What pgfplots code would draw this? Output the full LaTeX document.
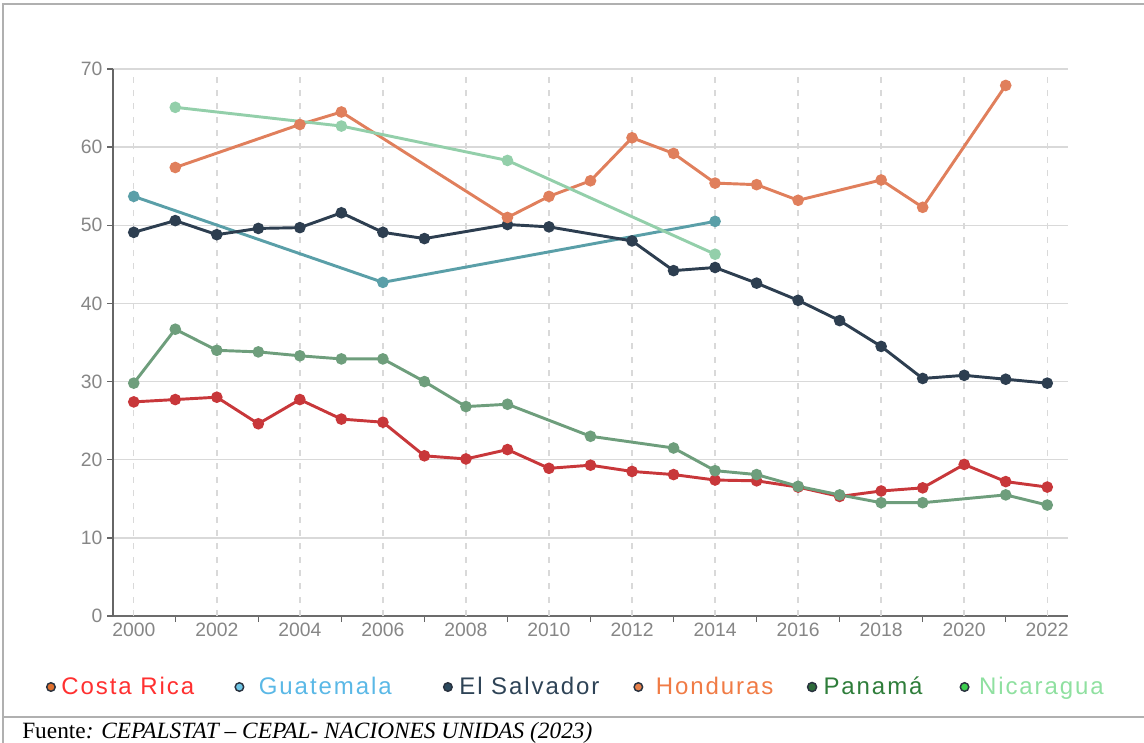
\documentclass[border=0pt]{standalone}
\usepackage{fontspec}
\setmainfont{Liberation Sans}
\newfontfamily\legfont{Liberation Sans}[LetterSpace=8]
\newfontfamily\srcfont{Liberation Serif}
\usepackage{pgfplots}
\pgfplotsset{compat=1.18}
\definecolor{cCR}{HTML}{C8373A}
\definecolor{cGU}{HTML}{5A9FA8}
\definecolor{cES}{HTML}{2D3E50}
\definecolor{cHO}{HTML}{E07F5C}
\definecolor{cPA}{HTML}{6E9E7C}
\definecolor{cNI}{HTML}{93CFAA}
\definecolor{tCR}{HTML}{FF3030}
\definecolor{tGU}{HTML}{5AB8E6}
\definecolor{tES}{HTML}{2E4356}
\definecolor{tHO}{HTML}{F07B45}
\definecolor{tPA}{HTML}{2E7D3A}
\definecolor{tNI}{HTML}{8FE0A0}
\definecolor{mCR}{HTML}{E0702E}
\definecolor{mGU}{HTML}{6EC6E6}
\definecolor{mES}{HTML}{2C4A5E}
\definecolor{mHO}{HTML}{E8804A}
\definecolor{mPA}{HTML}{2E6B3A}
\definecolor{mNI}{HTML}{3CCF4E}
\definecolor{mOut}{HTML}{2A3340}
\definecolor{frame}{HTML}{B0B0B0}
\begin{document}
\begin{tikzpicture}
\useasboundingbox (0,0) rectangle (858pt,-556.5pt);
\draw[frame, line width=1.5pt] (2.25pt,-560pt) -- (2.25pt,-3pt) -- (860pt,-3pt);
\draw[frame, line width=1.5pt] (2.25pt,-537.75pt) -- (860pt,-537.75pt);
\begin{axis}[
  at={(84.75pt,-462pt)}, anchor=south west,
  scale only axis, width=716.25pt, height=410.25pt,
  xmin=1999.5, xmax=2022.5, ymin=0, ymax=70,
  axis x line*=bottom, axis y line*=left,
  x axis line style={draw=gray!85!black, line width=1.6pt},
  y axis line style={draw=gray!80!black, line width=2.2pt},
  xtick={2001,2003,...,2021}, xticklabels={},
  extra x ticks={2000,2002,...,2022},
  extra x tick style={grid=major, major grid style={draw=gray!30, line width=1.1pt, dash pattern=on 4.5pt off 5.5pt}, major tick length=0pt},
  ytick={0,10,...,70}, ymajorgrids=true,
  major grid style={draw=gray!30, line width=1.1pt},
  tick align=outside, major tick length=4.5pt,
  tick style={draw=gray!80!black, line width=1.1pt},
  tick label style={font=\fontsize{14.5}{14.5}\selectfont, text=gray!95},
  xticklabel style={yshift=-2pt},
  /pgf/number format/assume math mode=true,
  /pgf/number format/1000 sep={},
  clip=false,
  legend columns=6,
  legend cell align=left,
  legend style={at={(-0.0702,-0.1298)}, anchor=west, draw=none, fill=none,
    inner sep=0pt, outer sep=0pt, font=\legfont\fontsize{18}{18}\selectfont,
    /tikz/column sep=0pt, nodes={inner sep=0pt}},
  every axis plot/.append style={line width=2.2pt, mark=*, mark size=3.2pt, mark options={solid}},
]
\addlegendimage{legend image code/.code={\draw[fill=mCR, draw=mOut, line width=1.1pt] (0pt,0pt) circle (3.2pt); \path (6.75pt,0pt);}}
\addlegendentry{\makebox[129.75pt][l]{\textcolor{tCR}{Costa Rica}}}
\addlegendimage{legend image code/.code={\draw[fill=mGU, draw=mOut, line width=1.1pt] (0pt,0pt) circle (3.2pt); \path (13.5pt,0pt);}}
\addlegendentry{\makebox[138pt][l]{\textcolor{tGU}{Guatemala}}}
\addlegendimage{legend image code/.code={\draw[fill=mES, draw=mOut, line width=1.1pt] (0pt,0pt) circle (3.2pt); \path (7.5pt,0pt);}}
\addlegendentry{\makebox[130.5pt][l]{\textcolor{tES}{El Salvador}}}
\addlegendimage{legend image code/.code={\draw[fill=mHO, draw=mOut, line width=1.1pt] (0pt,0pt) circle (3.2pt); \path (12pt,0pt);}}
\addlegendentry{\makebox[113.25pt][l]{\textcolor{tHO}{Honduras}}}
\addlegendimage{legend image code/.code={\draw[fill=mPA, draw=mOut, line width=1.1pt] (0pt,0pt) circle (3.4pt); \path (7.5pt,0pt);}}
\addlegendentry{\makebox[102pt][l]{\textcolor{tPA}{Panamá}}}
\addlegendimage{legend image code/.code={\draw[fill=mNI, draw=mOut, line width=1.1pt] (0pt,0pt) circle (3.2pt); \path (9.75pt,0pt);}}
\addlegendentry{\makebox[105pt][l]{\textcolor{tNI}{Nicaragua}}}

% Costa Rica
\addplot[color=cCR, forget plot] coordinates {
(2000,27.4) (2001,27.7) (2002,28.0) (2003,24.6) (2004,27.7) (2005,25.2) (2006,24.8)
(2007,20.5) (2008,20.1) (2009,21.3) (2010,18.9) (2011,19.3) (2012,18.5) (2013,18.1)
(2014,17.4) (2015,17.3) (2016,16.5) (2017,15.3) (2018,16.0) (2019,16.4) (2020,19.4)
(2021,17.2) (2022,16.5)};
% Guatemala
\addplot[color=cGU, forget plot] coordinates {
(2000,53.7) (2006,42.7) (2014,50.5)};
% El Salvador
\addplot[color=cES, forget plot] coordinates {
(2000,49.1) (2001,50.6) (2002,48.8) (2003,49.6) (2004,49.7) (2005,51.6) (2006,49.1)
(2007,48.3) (2009,50.1) (2010,49.8) (2012,48.0) (2013,44.2) (2014,44.6) (2015,42.6)
(2016,40.4) (2017,37.8) (2018,34.5) (2019,30.4) (2020,30.8) (2021,30.3) (2022,29.8)};
% Honduras
\addplot[color=cHO, forget plot] coordinates {
(2001,57.4) (2004,62.9) (2005,64.5) (2009,51.0) (2010,53.7) (2011,55.7) (2012,61.2)
(2013,59.2) (2014,55.4) (2015,55.2) (2016,53.2) (2018,55.8) (2019,52.3) (2021,67.9)};
% Panama
\addplot[color=cPA, forget plot] coordinates {
(2000,29.8) (2001,36.7) (2002,34.0) (2003,33.8) (2004,33.3) (2005,32.9) (2006,32.9)
(2007,30.0) (2008,26.8) (2009,27.1) (2011,23.0) (2013,21.5) (2014,18.6) (2015,18.1)
(2016,16.6) (2017,15.5) (2018,14.5) (2019,14.5) (2021,15.5) (2022,14.2)};
% Nicaragua
\addplot[color=cNI, forget plot] coordinates {
(2001,65.1) (2005,62.7) (2009,58.3) (2014,46.3)};
\end{axis}
\node[anchor=base west, inner sep=0pt] at (16.5pt,-553.5pt)
  {\srcfont\fontsize{17.5}{17.5}\selectfont Fuente\textit{: CEPALSTAT – CEPAL- NACIONES UNIDAS (2023)}};
\end{tikzpicture}
\end{document}
